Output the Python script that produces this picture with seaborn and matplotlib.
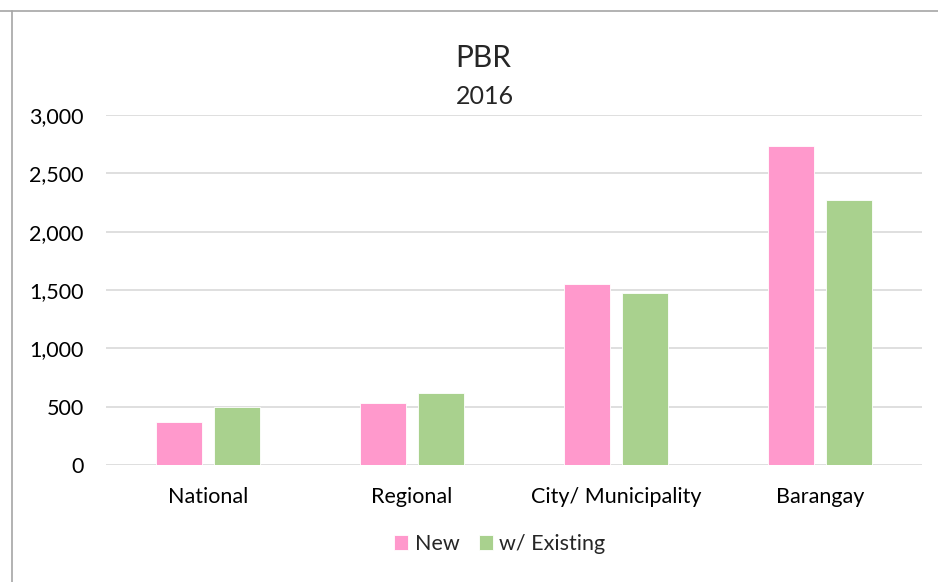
import seaborn as sns
import matplotlib.pyplot as plt
import pandas as pd
from matplotlib.lines import Line2D

CATEGORIES = ["National", "Regional", "City/ Municipality", "Barangay"]
SERIES = ["New", "w/ Existing"]
NEW_VALUES = [365, 535, 1550, 2735]
EXISTING_VALUES = [500, 615, 1475, 2270]
Y_TICKS = [0, 500, 1000, 1500, 2000, 2500, 3000]
COLORS = {"New": "#FF99CC", "w/ Existing": "#A9D18E"}

W, H = 938, 582


def px_x(x):
    return x / W


def px_y(y):
    return 1 - y / H


def plot():
    sns.set_style("white")
    plt.rcParams["font.family"] = ["Lato", "DejaVu Sans"]

    df = pd.DataFrame({
        "category": CATEGORIES * 2,
        "series": [SERIES[0]] * len(CATEGORIES) + [SERIES[1]] * len(CATEGORIES),
        "value": NEW_VALUES + EXISTING_VALUES,
    })

    fig = plt.figure(figsize=(W / 100, H / 100), dpi=100)
    ax = fig.add_axes([px_x(106), px_y(465), px_x(922) - px_x(106), px_y(115) - px_y(465)])

    sns.barplot(
        data=df, x="category", y="value", hue="series",
        order=CATEGORIES, hue_order=SERIES, palette=COLORS, saturation=1,
        width=0.57, gap=0.21, edgecolor="white", linewidth=0.6,
        ax=ax, legend=True, zorder=3,
    )

    ax.set_xlim(-0.5, 3.5)
    ax.set_ylim(0, 3000)
    ax.set_yticks(Y_TICKS)
    ax.set_yticklabels([f"{v:,}" for v in Y_TICKS])
    ax.yaxis.grid(True, color="#D9D9D9", linewidth=1.2, zorder=0)
    ax.set_axisbelow(True)
    ax.set_xlabel("")
    ax.set_ylabel("")
    for s in ax.spines.values():
        s.set_visible(False)
    ax.tick_params(axis="x", length=0, pad=16, labelsize=15.5, colors="#000000")
    ax.tick_params(axis="y", length=0, pad=16, labelsize=15.5, colors="#000000")

    handles, labels = ax.get_legend_handles_labels()
    ax.get_legend().remove()
    fig.legend(handles, labels, loc="center", bbox_to_anchor=(px_x(500), px_y(544)),
               ncol=2, frameon=False, fontsize=15.5, handlelength=0.65, handleheight=0.65,
               handletextpad=0.3, columnspacing=0.9)

    fig.text(px_x(483), px_y(67), "PBR", ha="center", va="baseline", fontsize=21.5)
    fig.text(px_x(485), px_y(104), "2016", ha="center", va="baseline", fontsize=18)

    # frame lines at the top and left edge
    fig.add_artist(Line2D([0, 1], [px_y(10.5), px_y(10.5)], transform=fig.transFigure,
                          color="#A6A6A6", linewidth=1.2))
    fig.add_artist(Line2D([px_x(12), px_x(12)], [0, px_y(10.5)], transform=fig.transFigure,
                          color="#A6A6A6", linewidth=1.2))

    fig.savefig("out.png", dpi=100)


if __name__ == "__main__":
    plot()
